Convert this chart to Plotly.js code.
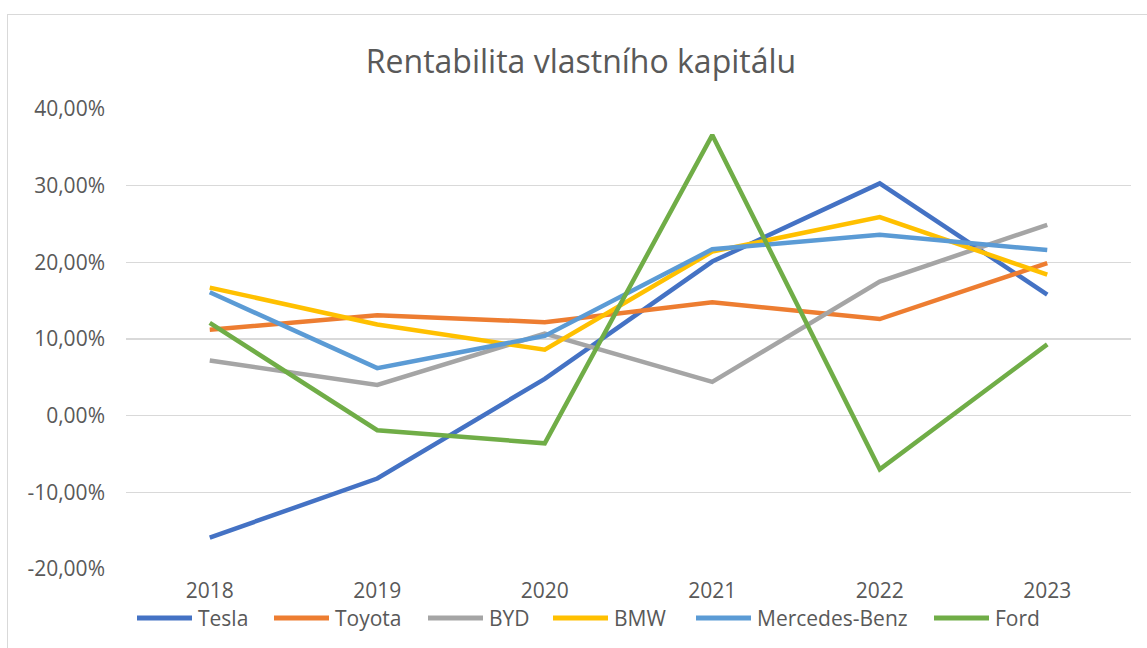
<!DOCTYPE html>
<html>
<head>
<meta charset="utf-8">
<script src="https://cdn.plot.ly/plotly-3.0.1.min.js"></script>
<style>
  html, body { margin: 0; padding: 0; background: #fff; overflow: hidden; }
  #chart { position: absolute; left: 0; top: 0; width: 1147px; height: 648px; }
  #frame { position: absolute; left: 7px; top: 14px; width: 1200px; height: 700px;
           border: 1.5px solid #d9d9d9; pointer-events: none; }
</style>
</head>
<body>
<div id="chart"></div>
<div id="frame"></div>
<script>
const years = ["2018", "2019", "2020", "2021", "2022", "2023"];
const tesla    = [-0.159, -0.082, 0.048, 0.201, 0.303, 0.158];
const toyota   = [0.112, 0.131, 0.122, 0.148, 0.126, 0.199];
const byd      = [0.072, 0.040, 0.107, 0.044, 0.175, 0.249];
const bmw      = [0.167, 0.119, 0.086, 0.214, 0.259, 0.184];
const mercedes = [0.161, 0.062, 0.104, 0.217, 0.236, 0.216];
const ford     = [0.121, -0.019, -0.036, 0.366, -0.070, 0.093];
const seriesNames = ["Tesla", "Toyota", "BYD", "BMW", "Mercedes-Benz", "Ford"];
const tickVals = [-0.2, -0.1, 0, 0.1, 0.2, 0.3, 0.4];
const tickText = ["-20,00%", "-10,00%", "0,00%", "10,00%", "20,00%", "30,00%", "40,00%"];

const colors = ["#4472C4", "#ED7D31", "#A5A5A5", "#FFC000", "#5B9BD5", "#70AD47"];
const values = [tesla, toyota, byd, bmw, mercedes, ford];

const W = 1147, H = 648;
const M = { l: 126, r: 16, t: 109, b: 79 };
const plotW = W - M.l - M.r, plotH = H - M.t - M.b;
const px2x = px => (px - M.l) / plotW;
const py2y = py => (H - M.b - py) / plotH;

const traces = values.map((v, i) => ({
  type: "scatter",
  mode: "lines",
  name: seriesNames[i],
  x: years,
  y: v,
  line: { color: colors[i], width: 4.5 },
  hoverinfo: "x+y+name"
}));

const font = "'Open Sans', 'Noto Sans', sans-serif";

// custom legend (Excel-style long line samples)
const legendStartPx = [137, 274, 428, 553, 696, 934];
const legendY = 618, lineLen = 55, textGap = 4;
const shapes = [], annotations = [];
seriesNames.forEach((n, i) => {
  const x0 = legendStartPx[i];
  shapes.push({
    type: "line", xref: "paper", yref: "paper",
    x0: px2x(x0), x1: px2x(x0 + lineLen), y0: py2y(legendY), y1: py2y(legendY),
    line: { color: colors[i], width: 5 }
  });
  annotations.push({
    text: n, xref: "paper", yref: "paper",
    x: px2x(x0 + lineLen + textGap), y: py2y(legendY),
    xanchor: "left", yanchor: "middle", showarrow: false,
    font: { family: font, size: 21, color: "#595959" }
  });
});

const layout = {
  width: W,
  height: H,
  margin: M,
  paper_bgcolor: "rgba(0,0,0,0)",
  plot_bgcolor: "#fff",
  font: { family: font, color: "#595959", size: 21 },
  title: {
    text: "Rentabilita vlastního kapitálu",
    font: { family: font, size: 32, color: "#595959" },
    x: 581 / W, xanchor: "center", xref: "container",
    y: 1 - 62 / H, yref: "container", yanchor: "middle"
  },
  xaxis: {
    type: "category",
    range: [-0.5, 5.5],
    showgrid: false,
    zeroline: false,
    showline: false,
    ticks: "",
    tickfont: { family: font, size: 21, color: "#595959" },
    ticklabelstandoff: 7
  },
  yaxis: {
    range: [-0.2, 0.4],
    tickvals: tickVals,
    ticktext: tickText,
    showgrid: true,
    gridcolor: "#d9d9d9",
    gridwidth: 1.5,
    zeroline: false,
    showline: false,
    ticks: "",
    tickfont: { family: font, size: 21, color: "#595959" },
    ticklabelstandoff: 20
  },
  showlegend: false,
  shapes: shapes,
  annotations: annotations
};

Plotly.newPlot("chart", traces, layout, { displayModeBar: false, staticPlot: true });
</script>
</body>
</html>
